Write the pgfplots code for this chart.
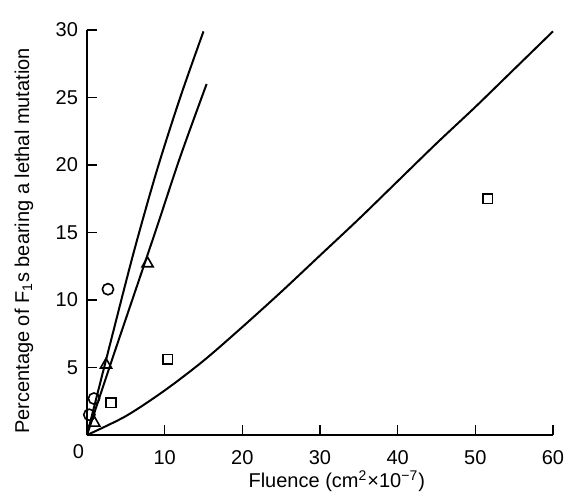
\documentclass[border=0pt]{standalone}
\usepackage{fontspec}
\setmainfont{Liberation Sans}
\usepackage{pgfplots}
\pgfplotsset{compat=1.18}

\begin{document}
\begin{tikzpicture}
\begin{axis}[
  name=ax, at={(0,0)}, anchor=south west,
  scale only axis, width=233pt, height=202.5pt,
  xmin=0, xmax=60, ymin=0, ymax=30,
  axis lines=left, axis line style={-, line width=0.9pt},
  tick align=inside, major tick length=5pt,
  tick style={line width=0.8pt, black},
  xtick={10,20,...,60}, ytick={5,10,...,30},
  font=\fontsize{10}{12}\selectfont,
  /pgf/number format/assume math mode=true,
  xticklabel style={yshift=-4.3pt},
  yticklabel style={xshift=-1pt},
  xlabel={Fluence (cm\textsuperscript{2}×10\textsuperscript{−7})},
  ylabel={Percentage of F\textsubscript{1}s bearing a lethal mutation},
  xlabel style={at={([yshift=-23pt]axis description cs:0.536,0)}, anchor=center},
  ylabel style={at={([xshift=-31.5pt]axis description cs:0,0.479)}, anchor=center},
  clip=false,
]
% fitted curves
\addplot[black, line width=1pt, smooth] coordinates {
  (0,0) (3,6.8) (6,13.5) (9,19.6) (12,25.0) (15,29.9)
};
\addplot[black, line width=1pt, smooth] coordinates {
  (0,0) (3,5.2) (6,10.3) (9,15.4) (12,20.6) (15.4,26.0)
};
\addplot[black, line width=1pt, smooth] coordinates {
  (0,0) (5,1.4) (10,3.3) (15,5.5) (20,8.0) (25,10.6) (30,13.3) (35,16.0)
  (40,18.8) (45,21.6) (50,24.3) (55,27.1) (60,29.9)
};
% observations
\addplot[only marks, mark=o, mark size=2.8pt, black, line width=0.8pt]
  coordinates {(0.3,1.5) (0.9,2.7) (2.7,10.8)};
\addplot[only marks, mark=triangle, mark size=3.2pt, black, line width=0.8pt]
  coordinates {(0.94,0.9) (2.45,5.2) (7.8,12.7)};
\addplot[only marks, mark=square, mark size=2.4pt, black, line width=0.8pt]
  coordinates {(3.1,2.4) (10.4,5.6) (51.6,17.5)};
\node[font=\fontsize{10}{12}\selectfont] at ([xshift=-4.25pt, yshift=-8.25pt]axis cs:0,0) {0};
\end{axis}
\pgfresetboundingbox
\useasboundingbox (-43.5pt,-31.5pt) rectangle (239.5pt,217.5pt);
\end{tikzpicture}
\end{document}
